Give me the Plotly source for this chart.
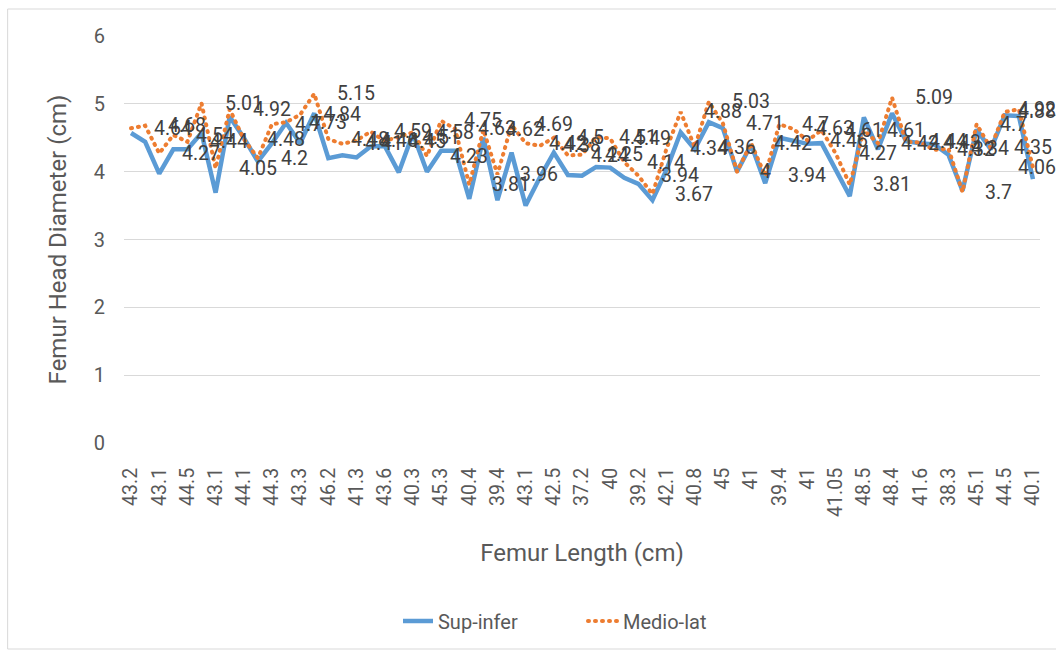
import plotly.graph_objects as go

# ---------------- data ----------------
x_tick_labels = ["43.2", "43.1", "44.5", "43.1", "44.1", "44.3", "43.3", "46.2", "41.3", "43.6",
                 "40.3", "45.3", "40.4", "39.4", "43.1", "42.5", "37.2", "40", "39.2", "42.1",
                 "40.8", "45", "41", "39.4", "41", "41.05", "48.5", "48.4", "41.6", "38.3",
                 "45.1", "44.5", "40.1"]

sup_infer = [4.57, 4.44, 3.97, 4.33, 4.33, 4.57, 3.69, 4.81, 4.50, 4.15,
             4.42, 4.72, 4.42, 4.86, 4.20, 4.24, 4.21, 4.37, 4.38, 3.99,
             4.56, 4.00, 4.31, 4.31, 3.60, 4.50, 3.58, 4.28, 3.50, 3.91,
             4.28, 3.95, 3.94, 4.07, 4.06, 3.91, 3.82, 3.58, 4.03, 4.58,
             4.33, 4.73, 4.64, 4.00, 4.40, 3.83, 4.50, 4.45, 4.41, 4.42,
             4.03, 3.64, 4.80, 4.33, 4.86, 4.45, 4.42, 4.40, 4.25, 3.72,
             4.62, 4.33, 4.83, 4.82, 3.89]

medio_lat = [4.64, 4.68, 4.27, 4.54, 4.44, 5.01, 4.05, 4.92, 4.48, 4.2,
             4.7, 4.73, 4.84, 5.15, 4.48, 4.41, 4.46, 4.59, 4.45, 4.51,
             4.58, 4.23, 4.75, 4.63, 3.81, 4.62, 3.96, 4.69, 4.42, 4.38,
             4.5, 4.24, 4.25, 4.51, 4.49, 4.14, 3.94, 3.67, 4.34, 4.88,
             4.36, 5.03, 4.71, 4, 4.42, 3.94, 4.7, 4.63, 4.46, 4.61,
             4.27, 3.81, 4.61, 4.42, 5.09, 4.44, 4.43, 4.32, 4.34, 3.7,
             4.7, 4.35, 4.88, 4.92, 4.06]

n = len(sup_infer)
x_idx = list(range(n))
tick_positions = list(range(0, n, 2))

# ---------------- layout geometry ----------------
W, H = 1056, 652
ML, MR, MT, MB = 123.5, 15.5, 36, 209
plot_w = W - ML - MR
plot_h = H - MT - MB
FONT = "Roboto"
LABEL_FS = 19.5
GREY = "#595959"

fig = go.Figure()
fig.add_trace(go.Scatter(
    x=x_idx, y=sup_infer, mode="lines", name="Sup-infer",
    line=dict(color="#5B9BD5", width=4.5, shape="linear"),
))
fig.add_trace(go.Scatter(
    x=x_idx, y=medio_lat, mode="lines", name="Medio-lat",
    line=dict(color="#ED7D31", width=4, dash="1px,6px"),
))

# data labels (Medio-lat), placed to the right of each point, kept inside chart
def text_w(s, fs):
    return sum((0.5615 if c.isdigit() else 0.264) for c in s) * fs

cat_w = plot_w / n
annotations = []
for i, v in enumerate(medio_lat):
    txt = f"{v:g}"
    px = ML + (i + 0.5) * cat_w
    shift = 21
    w = text_w(txt, LABEL_FS)
    if px + shift + w > W - 2:
        shift = (W - 2) - w - px
    annotations.append(dict(
        x=i, y=v, xref="x", yref="y", text=txt, showarrow=False,
        xanchor="left", yanchor="middle", xshift=shift,
        font=dict(family=FONT, size=LABEL_FS, color="#404040"),
    ))

fig.update_layout(
    width=W, height=H,
    margin=dict(l=ML, r=MR, t=MT, b=MB, autoexpand=False),
    paper_bgcolor="white", plot_bgcolor="white",
    font=dict(family=FONT, color=GREY, size=19.5),
    showlegend=True,
    legend=dict(orientation="h", x=(583 - ML) / plot_w, xanchor="center",
                y=-(621 - (H - MB)) / plot_h, yanchor="middle",
                font=dict(family=FONT, size=20, color=GREY),
                entrywidth=140, entrywidthmode="pixels",
                bgcolor="rgba(0,0,0,0)"),
    annotations=annotations,
    shapes=[dict(type="rect", xref="paper", yref="paper",
                 x0=-(ML - 7) / plot_w, x1=(W + 10 - ML) / plot_w,
                 y0=-(649 - (H - MB)) / plot_h, y1=1 + (MT - 9) / plot_h,
                 line=dict(color="#D9D9D9", width=1), layer="below")],
)

fig.update_xaxes(
    range=[-0.5, n - 0.5], tickmode="array", tickvals=tick_positions,
    ticktext=x_tick_labels, tickangle=-90, showgrid=False, zeroline=False,
    showline=False, ticks="", ticklabelstandoff=20,
    tickfont=dict(family=FONT, size=19.5, color=GREY),
    title=dict(text="Femur Length (cm)", standoff=28,
               font=dict(family=FONT, size=24, color=GREY)),
    automargin=False,
)
fig.update_yaxes(
    range=[0, 6], tickmode="array", tickvals=[0, 1, 2, 3, 4, 5, 6],
    showgrid=True, gridcolor="#D9D9D9", gridwidth=1.3, zeroline=False,
    showline=False, ticks="", ticklabelstandoff=18,
    tickfont=dict(family=FONT, size=20, color=GREY),
    title=dict(text="Femur Head Diameter (cm)", standoff=20,
               font=dict(family=FONT, size=24, color=GREY)),
    automargin=False,
)

post = """
document.body.style.margin='0';document.body.style.overflow='hidden';
function roundDots(){
  document.querySelectorAll('path').forEach(function(p){
    var s = p.style.stroke || '';
    if ((s.indexOf('237, 125, 49') >= 0 || s.indexOf('ed7d31') >= 0) && p.style.strokeDasharray) {
      p.style.strokeLinecap = 'round';
    }
  });
}
roundDots(); setTimeout(roundDots, 50); setTimeout(roundDots, 300);
"""
fig.write_html("out.html", post_script=post, config={"displayModeBar": False})
